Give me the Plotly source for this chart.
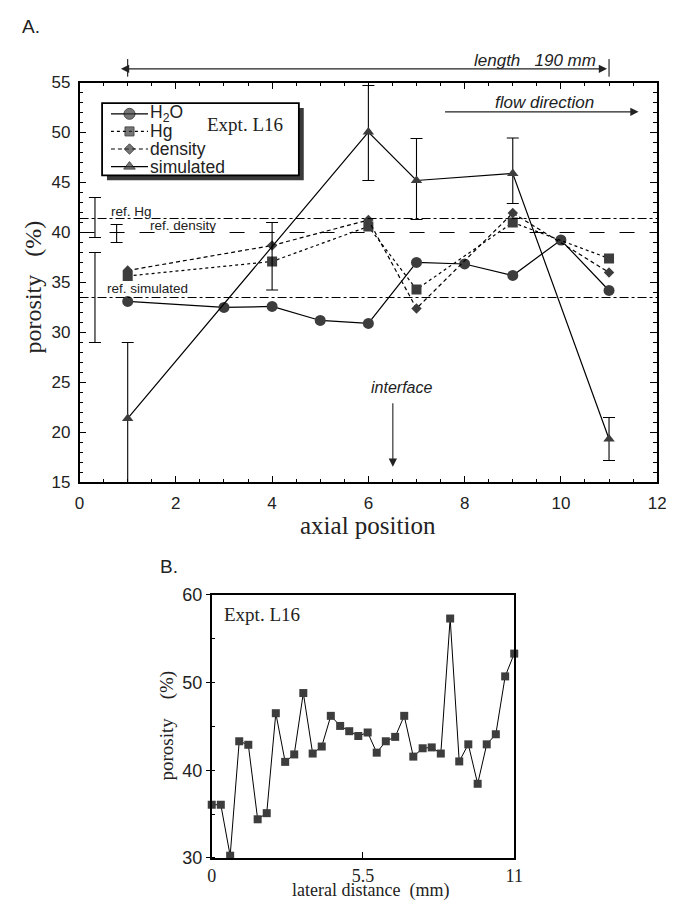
import plotly.graph_objects as go

# ---- data: panel A (axial profile) ----
h2o_x = [1, 3, 4, 5, 6, 7, 8, 9, 10, 11]
h2o_y = [33.1, 32.5, 32.6, 31.2, 30.9, 37.0, 36.85, 35.7, 39.25, 34.2]

hg_x = [1, 4, 6, 7, 9, 11]
hg_y = [35.65, 37.1, 40.6, 34.3, 41.0, 37.4]

dens_x = [1, 4, 6, 7, 9, 11]
dens_y = [36.2, 38.7, 41.25, 32.4, 41.95, 36.0]

sim_x = [1, 6, 7, 9, 11]
sim_y = [21.4, 50.05, 45.2, 45.9, 19.35]
sim_hi = [29.0, 54.7, 49.4, 49.45, 21.5]
sim_lo = [14.0, 45.2, 41.3, 42.9, 17.2]

# error bar on Hg at x=4
hgerr_x = [4]
hgerr_lo = [34.25]
hgerr_hi = [41.0]

# reference levels and their bars
ref_names = ["ref. Hg", "ref. density", "ref. simulated"]
ref_levels = [41.4, 40.0, 33.5]
ref_bar_x = [0.32, 0.77, 0.32]
ref_bar_lo = [39.5, 39.0, 29.0]
ref_bar_hi = [43.5, 40.8, 38.0]

# ---- data: panel B (lateral profile) ----
lat_x = [0, 0.33, 0.67, 1.0, 1.33, 1.67, 2.0, 2.33, 2.67, 3.0, 3.33, 3.67,
         4.0, 4.33, 4.67, 5.0, 5.33, 5.67, 6.0, 6.33, 6.67, 7.0, 7.33, 7.67,
         8.0, 8.33, 8.67, 9.0, 9.33, 9.67, 10.0, 10.33, 10.67, 11.0]
lat_y = [36.06, 36.06, 30.25, 43.3, 42.9, 34.4, 35.1, 46.5, 40.95, 41.8,
         48.8, 41.9, 42.7, 46.2, 45.05, 44.45, 43.9, 44.3, 42.0, 43.3,
         43.8, 46.2, 41.55, 42.5, 42.6, 41.9, 57.3, 41.0, 42.95, 38.45,
         42.95, 44.1, 50.7, 53.3]

# the html body keeps an 8px margin: the figure starts at (8, 8) on the page
PAD = 8
W, H = 674 - PAD, 914 - 2 * PAD
MK = "#3d3d3d"
SANS = "Liberation Sans, Arial, sans-serif"
SERIF = "Liberation Serif, Times New Roman, serif"


def px(x):
    return (x - PAD) / W


def py(y):
    return 1 - (y - PAD) / H


# panel A pixel box (page pixels)
AX0, AX1, AY0, AY1 = 76, 666, 74, 483


def ax_px(v):
    return AX0 + v * (AX1 - AX0) / 12.0


fig = go.Figure()

fig.add_trace(go.Scatter(x=h2o_x, y=h2o_y, mode="lines+markers", name="H<sub>2</sub>O",
                         line=dict(color="black", width=1.2),
                         marker=dict(symbol="circle", size=11, color=MK)))
fig.add_trace(go.Scatter(x=hg_x, y=hg_y, mode="lines+markers", name="Hg",
                         line=dict(color="black", width=1.2, dash="dot"),
                         marker=dict(symbol="square", size=10, color=MK)))
fig.add_trace(go.Scatter(x=dens_x, y=dens_y, mode="lines+markers", name="density",
                         line=dict(color="black", width=1.2, dash="4px,3px"),
                         marker=dict(symbol="diamond", size=8, color=MK)))
fig.add_trace(go.Scatter(x=sim_x, y=sim_y, mode="lines+markers", name="simulated",
                         cliponaxis=False,
                         line=dict(color="black", width=1.2),
                         marker=dict(symbol="triangle-up", size=10, color=MK),
                         error_y=dict(type="data", symmetric=False,
                                      array=[h - v for h, v in zip(sim_hi, sim_y)],
                                      arrayminus=[v - l for v, l in zip(sim_y, sim_lo)],
                                      color="black", thickness=1.1, width=6)))
fig.add_trace(go.Scatter(x=hgerr_x, y=hgerr_lo, mode="markers",
                         marker=dict(size=0.1, color="rgba(0,0,0,0)"),
                         error_y=dict(type="data", symmetric=False,
                                      array=[h - l for h, l in zip(hgerr_hi, hgerr_lo)],
                                      arrayminus=[0], color="black", thickness=1.1, width=6)))
fig.add_trace(go.Scatter(x=ref_bar_x, y=ref_bar_lo, mode="markers", cliponaxis=False,
                         marker=dict(size=0.1, color="rgba(0,0,0,0)"),
                         error_y=dict(type="data", symmetric=False,
                                      array=[h - l for h, l in zip(ref_bar_hi, ref_bar_lo)],
                                      arrayminus=[0] * 3, color="black", thickness=1.1, width=6)))

# panel B
fig.add_trace(go.Scatter(x=lat_x, y=lat_y, mode="lines+markers", xaxis="x2", yaxis="y2",
                         cliponaxis=False,
                         line=dict(color="black", width=1),
                         marker=dict(symbol="square", size=8, color=MK)))

# hand-made legend keys on a hidden helper axis
legend_styles = [("circle", 11, "solid"), ("square", 9, "dot"),
                 ("diamond", 8, "4px,3px"), ("triangle-up", 10, "solid")]
legend_names = ["H<sub>2</sub>O", "Hg", "density", "simulated"]
for i, (sym, sz, dash) in enumerate(legend_styles):
    fig.add_trace(go.Scatter(x=[0, 0.5, 1], y=[i, i, i], xaxis="x3", yaxis="y3",
                             mode="lines+markers", cliponaxis=False,
                             line=dict(color="black", width=1.2, dash=dash),
                             marker=dict(symbol=sym, size=[0, sz, 0], color=MK)))

shapes = []
# reference lines
for lvl, dash in zip(ref_levels, ["dashdot", "longdash", "dashdot"]):
    shapes.append(dict(type="line", xref="x", yref="y", x0=0, x1=12, y0=lvl, y1=lvl,
                       line=dict(color="black", width=1.1, dash=dash)))
# legend box with shadow
shapes.append(dict(type="rect", xref="paper", yref="paper", layer="below",
                   x0=px(104), x1=px(305), y0=py(100), y1=py(174),
                   fillcolor="#3a3a3a", line=dict(width=0)))
shapes.append(dict(type="rect", xref="paper", yref="paper", layer="below",
                   x0=px(99), x1=px(300), y0=py(95), y1=py(169),
                   fillcolor="white", line=dict(color="black", width=1.8)))
# end bars of the length arrow
for v in (1, 11):
    shapes.append(dict(type="line", xref="paper", yref="paper",
                       x0=px(ax_px(v)), x1=px(ax_px(v)), y0=py(50), y1=py(68),
                       line=dict(color="black", width=1)))


def label(x, y, text, family=SANS, size=16, xanchor="center", angle=0):
    return dict(x=px(x), y=py(y), xref="paper", yref="paper", text=text, showarrow=False,
                xanchor=xanchor, yanchor="middle", textangle=angle, borderpad=0,
                font=dict(family=family, size=size, color="#222"))


def arrow(x, y, dx, dy, both=False):
    return dict(x=px(x), y=py(y), xref="paper", yref="paper", text="", showarrow=True,
                arrowside="end+start" if both else "end", arrowhead=2, arrowsize=1.5,
                arrowwidth=1.1, arrowcolor="#222", ax=dx, ay=dy, standoff=0,
                startstandoff=0)


ann = [
    label(16, 17, "A.", size=19, xanchor="left"),
    label(157, 569, "B.", size=19, xanchor="left"),
    arrow(ax_px(11) - 2, 60, -(ax_px(11) - ax_px(1) - 4), 0, both=True),
    label(541, 51, "<i>length   190 mm</i>", size=17),
    arrow(647, 104, -195, 0),
    label(551, 94, "<i>flow direction</i>", size=17),
    arrow(396, 467, 0, -65),
    label(405, 386, "<i>interface</i>", size=16),
]
# reference labels
for name, xx, yy in zip(ref_names, [107, 147, 103], [206, 220, 285]):
    ann.append(label(xx, yy, name, size=13.5, xanchor="left"))
# legend texts
for i, name in enumerate(legend_names):
    ann.append(label(147, 106 + 18 * i, name, size=17.5, xanchor="left"))
ann.append(label(205, 117, "Expt. L16", family=SERIF, size=19, xanchor="left"))
ann.append(label(223, 618, "Expt. L16", family=SERIF, size=19, xanchor="left"))
# axis titles
ann.append(label(28, 283, "porosity   (%)", family=SERIF, size=24, angle=-90))
ann.append(label(371, 527, "axial position", family=SERIF, size=25))
ann.append(label(165, 732, "porosity    (%)", family=SERIF, size=19, angle=-90))
ann.append(label(373, 900, "lateral distance  (mm)", family=SERIF, size=18))

axA = dict(showline=True, linecolor="black", linewidth=1.5, mirror="allticks",
           showgrid=False, zeroline=False, ticks="inside", tickwidth=1, ticklen=7,
           tickcolor="black", tickfont=dict(family=SANS, size=17, color="#222"))

fig.update_layout(
    width=W, height=H, autosize=False, showlegend=False,
    margin=dict(l=0, r=0, t=0, b=0),
    paper_bgcolor="white", plot_bgcolor="rgba(0,0,0,0)",
    xaxis=dict(axA, domain=[px(AX0), px(AX1)], range=[0, 12], tick0=0, dtick=2,
               anchor="y", ticklabelstandoff=4, ticklabeloverflow="allow",
               minor=dict(dtick=0.5, ticks="inside", ticklen=4, tickcolor="black")),
    yaxis=dict(axA, domain=[py(AY1), py(AY0)], range=[15, 55], tick0=15, dtick=5,
               anchor="x", ticklabelstandoff=4,
               minor=dict(dtick=1, ticks="inside", ticklen=4, tickcolor="black")),
    xaxis2=dict(domain=[px(211), px(520)], range=[0, 11], anchor="y2",
                tickmode="array", tickvals=[0, 5.5, 11], ticktext=["0", "5.5", "11"],
                showline=True, linecolor="black", linewidth=1.5, mirror=True,
                showgrid=False, zeroline=False, ticks="inside", ticklen=6, tickcolor="black",
                ticklabelstandoff=1,
                tickfont=dict(family=SERIF, size=18, color="#222")),
    yaxis2=dict(domain=[py(867), py(598)], range=[30, 60], anchor="x2", tick0=30, dtick=10,
                showline=True, linecolor="black", linewidth=1.5, mirror=True,
                showgrid=False, zeroline=False, ticks="outside", ticklen=4, tickcolor="black",
                tickfont=dict(family=SANS, size=18, color="#222"),
                minor=dict(dtick=5, ticks="inside", ticklen=4, tickcolor="black")),
    xaxis3=dict(domain=[px(108), px(146)], range=[0, 1], visible=False, anchor="y3"),
    yaxis3=dict(domain=[py(160 + 3.6), py(106 - 3.6)], range=[3.2, -0.2], visible=False,
                anchor="x3"),
    shapes=shapes, annotations=ann,
)

fig.write_html("out.html")
